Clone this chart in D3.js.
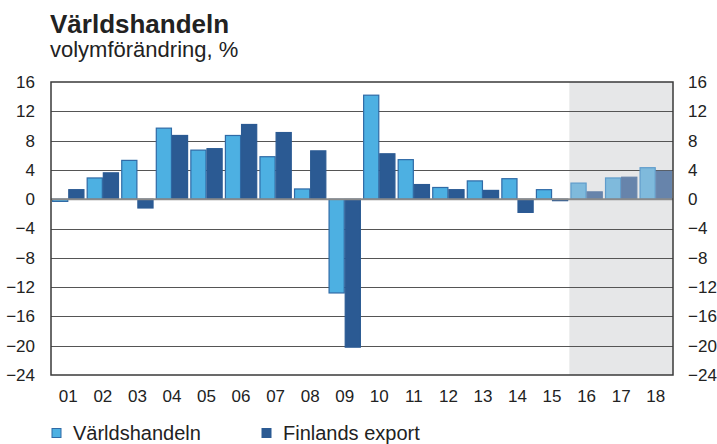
<!DOCTYPE html>
<html>
<head>
<meta charset="utf-8">
<script src="https://cdn.jsdelivr.net/npm/d3@7"></script>
<style>
  body { margin: 0; background: #fff; }
  svg { font-family: "Liberation Sans", Arial, sans-serif; }
</style>
</head>
<body>
<svg id="chart" width="717" height="444"></svg>
<script>
// years (2001-2018), last three are forecasts
var years = ['01','02','03','04','05','06','07','08','09','10','11','12','13','14','15','16','17','18'];
var forecastYears = ['16','17','18'];
var worldTrade = [-0.3, 2.9, 5.3, 9.7, 6.7, 8.7, 5.8, 1.4, -12.8, 14.2, 5.4, 1.6, 2.5, 2.8, 1.3, 2.2, 2.9, 4.3];
var finlandExport = [1.3, 3.6, -1.2, 8.7, 6.9, 10.2, 9.1, 6.6, -20.2, 6.2, 2.0, 1.3, 1.2, -1.8, -0.2, 1.0, 3.0, 3.8];
var yTicks = [16, 12, 8, 4, 0, -4, -8, -12, -16, -20, -24];
var seriesNames = ['Världshandeln', 'Finlands export'];

var svg = d3.select('#chart');
var plotL = 51, plotR = 673, plotT = 82, plotB = 375;

var x = d3.scaleBand().domain(years).range([plotL, plotR]);
var xs = d3.scaleBand().domain([0, 1]).range([0, x.bandwidth()]).paddingOuter(0.07);
var y = d3.scaleLinear().domain([-24, 16]).range([plotB, plotT]);

//forecast shading
svg.append('rect')
  .attr('x', x(forecastYears[0]))
  .attr('y', plotT)
  .attr('width', plotR - x(forecastYears[0]))
  .attr('height', plotB - plotT)
  .attr('fill', '#e6e7e8');

//gridlines
svg.append('g').selectAll('line')
  .data(yTicks.filter(function(d) { return d != 16 && d != -24 && d != 0; }))
  .join('line')
  .attr('x1', plotL).attr('x2', plotR)
  .attr('y1', function(d) { return Math.round(y(d)) + 0.5; })
  .attr('y2', function(d) { return Math.round(y(d)) + 0.5; })
  .attr('stroke', '#555')
  .attr('stroke-width', 1);

var colors = {
  fill: ['#4db0e2', '#2b5a93'],
  stroke: ['#2f6aa6', '#2b5a93'],
  fillF: ['#7fbadc', '#6784ab'],
  strokeF: ['#5f9ccb', '#6784ab']
};

[worldTrade, finlandExport].forEach(function(series, s) {
  svg.append('g').selectAll('rect')
    .data(series)
    .join('rect')
    .attr('x', function(d, i) { return x(years[i]) + xs(s) + 0.5; })
    .attr('width', xs.bandwidth() - 1)
    .attr('y', function(d) { return y(Math.max(0, d)); })
    .attr('height', function(d) { return Math.abs(y(d) - y(0)); })
    .attr('fill', function(d, i) {
      return forecastYears.indexOf(years[i]) >= 0 ? colors.fillF[s] : colors.fill[s];
    })
    .attr('stroke', function(d, i) {
      return forecastYears.indexOf(years[i]) >= 0 ? colors.strokeF[s] : colors.stroke[s];
    })
    .attr('stroke-width', 1.2);
});

//zero line
svg.append('line')
  .attr('x1', plotL).attr('x2', plotR)
  .attr('y1', y(0)).attr('y2', y(0))
  .attr('stroke', '#8a8a8a')
  .attr('stroke-width', 2);

//frame
svg.append('rect')
  .attr('x', plotL).attr('y', plotT)
  .attr('width', plotR - plotL).attr('height', plotB - plotT)
  .attr('fill', 'none')
  .attr('stroke', '#3a3a3a')
  .attr('stroke-width', 1.5);

//y axis labels both sides
var yLeft = d3.axisLeft(y).tickValues(yTicks).tickSize(0).tickPadding(16);
var yRight = d3.axisRight(y).tickValues(yTicks).tickSize(0).tickPadding(15);
[[yLeft, plotL], [yRight, plotR]].forEach(function(a) {
  var g = svg.append('g').attr('transform', 'translate(' + a[1] + ',0)').call(a[0]);
  g.select('.domain').remove();
  g.selectAll('text').attr('font-size', 17).attr('fill', '#222').attr('font-family', '"Liberation Sans", Arial, sans-serif');
});

//x axis labels
var xAxis = d3.axisBottom(x).tickSize(0).tickPadding(15);
var gx = svg.append('g').attr('transform', 'translate(0,' + plotB + ')').call(xAxis);
gx.select('.domain').remove();
gx.selectAll('text').attr('font-size', 17).attr('fill', '#222').attr('font-family', '"Liberation Sans", Arial, sans-serif');

//title
svg.append('text').attr('x', 50).attr('y', 33)
  .attr('font-size', 26).attr('font-weight', 'bold').attr('fill', '#222')
  .text('Världshandeln');
svg.append('text').attr('x', 50).attr('y', 57)
  .attr('font-size', 22).attr('fill', '#222')
  .text('volymförändring, %');

//legend
var legendX = [52, 262];
seriesNames.forEach(function(name, i) {
  svg.append('rect')
    .attr('x', legendX[i]).attr('y', 428.5)
    .attr('width', 9).attr('height', 9)
    .attr('fill', colors.fill[i])
    .attr('stroke', colors.stroke[i]);
  svg.append('text')
    .attr('x', legendX[i] + 21).attr('y', 440)
    .attr('font-size', 20).attr('fill', '#222')
    .text(name);
});
</script>
</body>
</html>
